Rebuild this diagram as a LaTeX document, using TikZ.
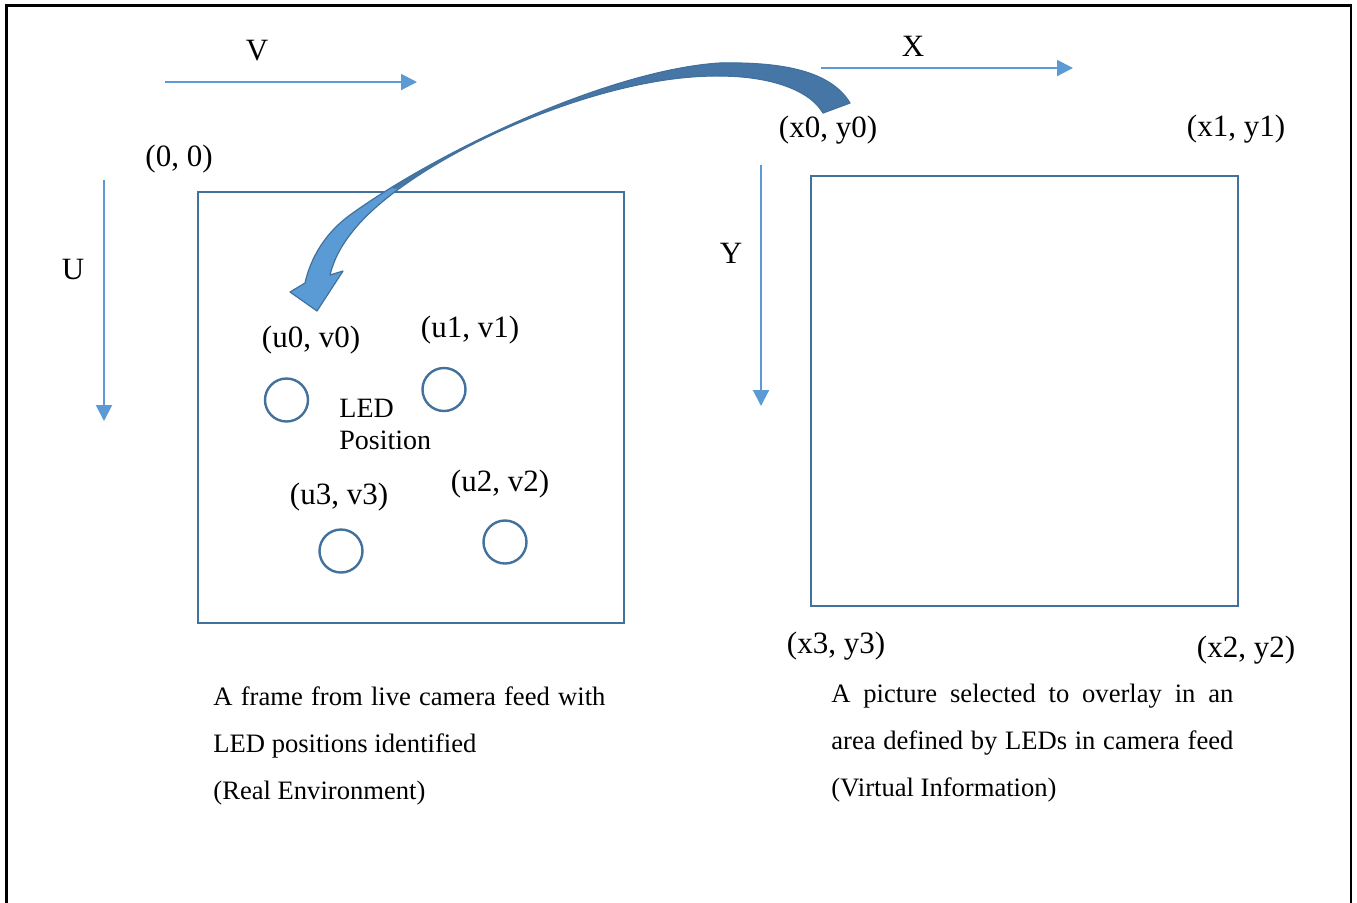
\documentclass[tikz,border=0pt]{standalone}
\usepackage{fontspec}
\setmainfont{Liberation Serif}
\usetikzlibrary{arrows.meta}
\definecolor{axisblue}{HTML}{5B9BD5}
\definecolor{boxblue}{HTML}{41719C}
\definecolor{darkarrow}{HTML}{4676A6}
\begin{document}
\begin{tikzpicture}[x=0.5pt,y=-0.5pt,
  axis/.style={draw=axisblue,line width=1pt,-{Triangle[length=8pt,width=8pt]}},
  framebox/.style={draw=boxblue,line width=1.2pt},
  ledc/.style={circle,draw=boxblue,line width=1.2pt,minimum size=21.5pt,inner sep=0pt},
  lbl/.style={font=\fontsize{15.5}{18}\selectfont,inner sep=0pt,anchor=base},
  ledtxt/.style={font=\fontsize{14}{16}\selectfont,inner sep=0pt,anchor=base west},
  captext/.style={font=\fontsize{13.3}{16}\selectfont,inner sep=0pt,anchor=base west}]
\useasboundingbox (0,0) rectangle (1357,902);
\clip (0,0) rectangle (1357,902);
\fill[white] (0,0) rectangle (1357,902);
% outer border
\draw[line width=1.25pt] (6.5,5.5) rectangle (1351,930);
% boxes
\node[framebox,inner sep=0,minimum width=213pt,minimum height=215.5pt,anchor=north west] (leftframe) at (197,191) {};
\node[framebox,inner sep=0,minimum width=213.5pt,minimum height=215pt,anchor=north west] (rightframe) at (810,175) {};
% axis arrows
\coordinate (vs) at (165,82); \coordinate (ve) at (417,82);
\coordinate (us) at (104,180); \coordinate (ue) at (104,421);
\coordinate (xs) at (821,68); \coordinate (xe) at (1073,68);
\coordinate (ys) at (761,165); \coordinate (ye) at (761,406);
\draw[axis] (vs) -- (ve);
\draw[axis] (us) -- (ue);
\draw[axis] (xs) -- (xe);
\draw[axis] (ys) -- (ye);
% LED circles
\node[ledc] (c0) at (286.5,400) {};
\node[ledc] (c1) at (444,389.5) {};
\node[ledc] (c3) at (341,551) {};
\node[ledc] (c2) at (505,542) {};
% labels
\node[lbl] (lv) at (257,60) {V};
\node[lbl] (lorig) at (179,166) {(0, 0)};
\node[lbl] (lu) at (73,279) {U};
\node[lbl] (lx) at (913,56) {X};
\node[lbl] (ly) at (731,263) {Y};
\node[lbl] (lx0) at (828,137) {(x0, y0)};
\node[lbl] (lx1) at (1236,136) {(x1, y1)};
\node[lbl] (lx3) at (836,653) {(x3, y3)};
\node[lbl] (lx2) at (1246,657) {(x2, y2)};
\node[lbl] (lu0) at (311,347) {(u0, v0)};
\node[lbl] (lu1) at (470,337) {(u1, v1)};
\node[lbl] (lu3) at (339,504) {(u3, v3)};
\node[lbl] (lu2) at (500,491) {(u2, v2)};
\node[ledtxt] (ledA) at (339,417) {LED};
\node[ledtxt] (ledB) at (339,449) {Position};
% captions
\node[captext] (capL1) at (213,705) {\makebox[196pt][s]{A frame from live camera feed with}};
\node[captext] (capL2) at (213,752) {LED positions identified};
\node[captext] (capL3) at (213,799) {(Real Environment)};
\node[captext] (capR1) at (831,702) {\makebox[201pt][s]{A picture selected to overlay in an}};
\node[captext] (capR2) at (831,749) {\makebox[201pt][s]{area defined by LEDs in camera feed}};
\node[captext] (capR3) at (831,796) {(Virtual Information)};
% curved block arrow
\def\arrowshape{(850,103) .. controls (830,70) and (780,62) .. (720,63)
  .. controls (610,70) and (440,150) .. (350,215)
  .. controls (320,237) and (309,265) .. (305,283)
  -- (290,292) -- (317,311) -- (343,271) -- (330,275)
  .. controls (335,255) and (345,240) .. (358,225)
  .. controls (420,155) and (600,74) .. (720,76)
  .. controls (770,76) and (810,90) .. (823,113) -- cycle}
\fill[axisblue] \arrowshape;
\begin{scope}
  \clip \arrowshape;
  \fill[darkarrow] (480,0) rectangle (900,200);
  \draw[darkarrow,line width=4pt,line cap=round] (720,63) .. controls (626.5,69) and (489.7,127.6) .. (395.4,185);
\end{scope}
\draw[boxblue,line width=0.6pt,line join=round] \arrowshape;
\end{tikzpicture}
\end{document}
